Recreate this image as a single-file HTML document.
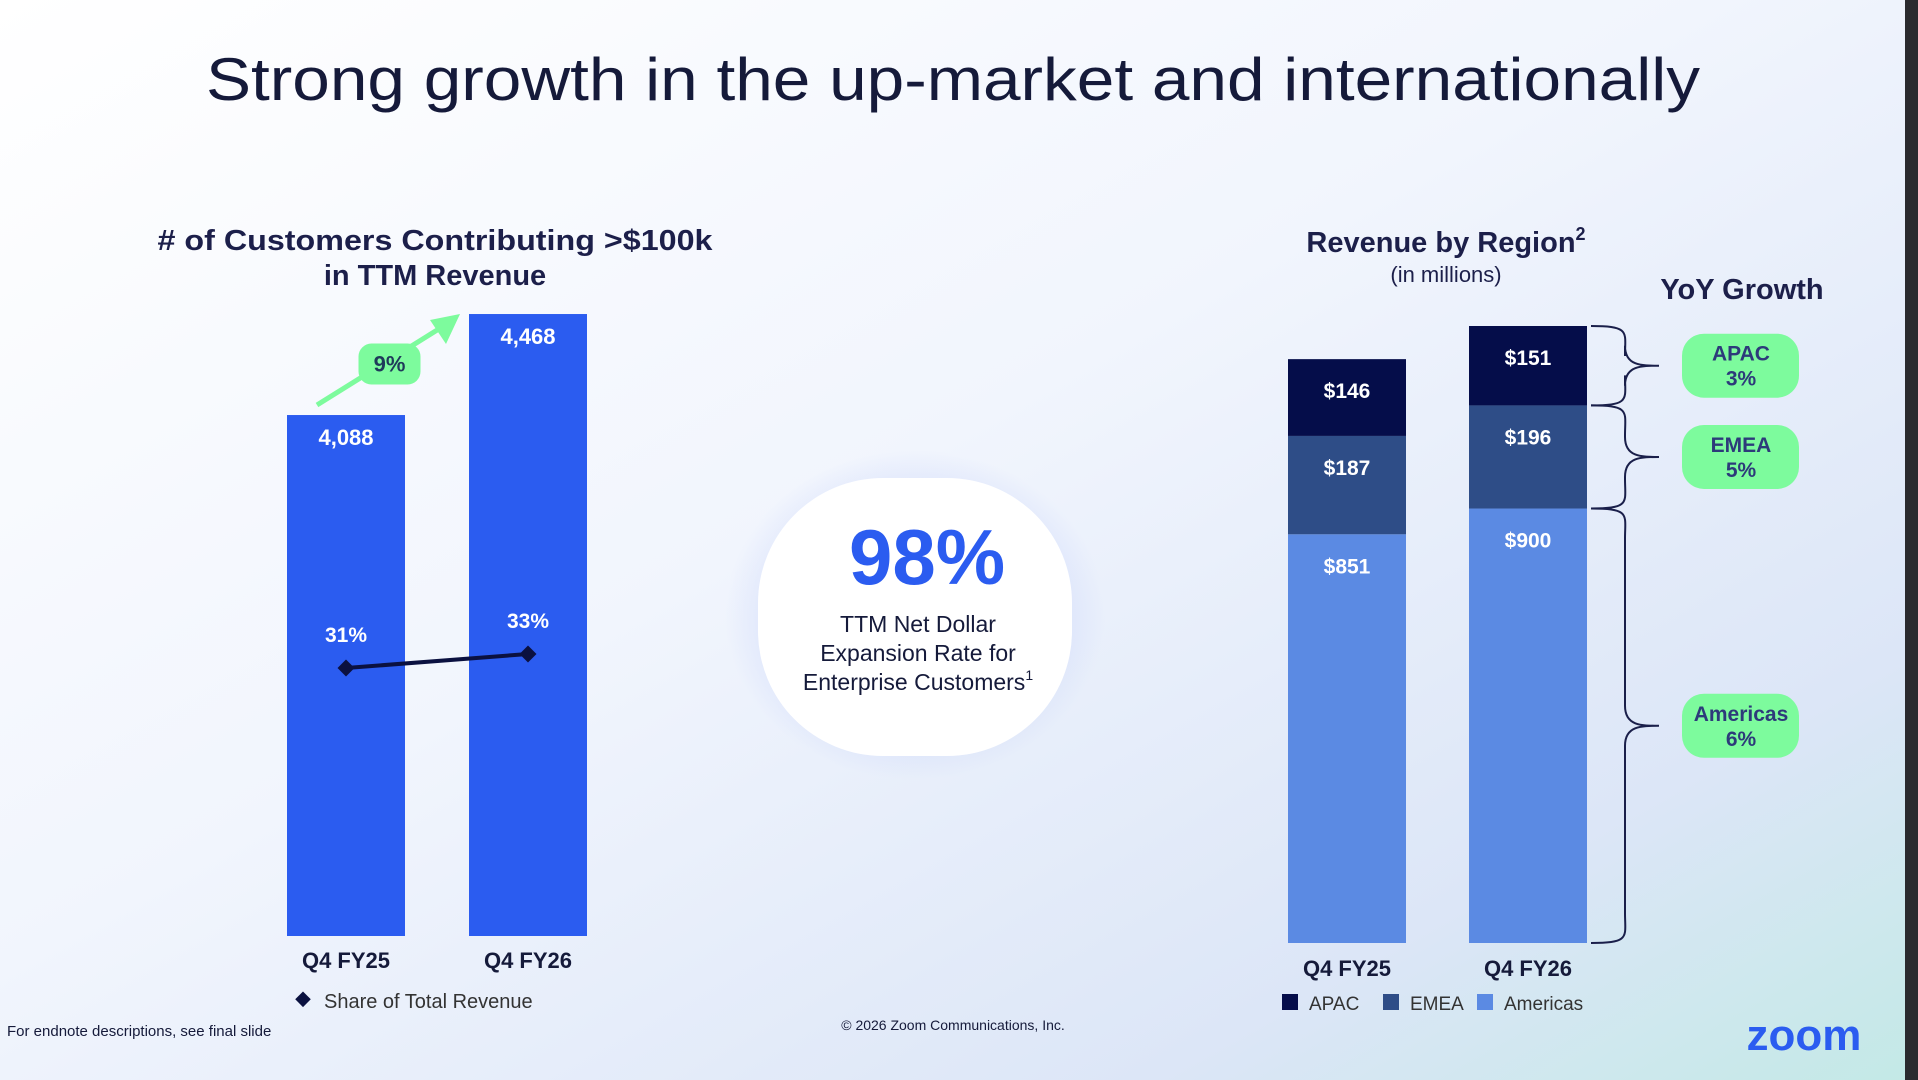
<!DOCTYPE html>
<html><head><meta charset="utf-8"><style>
html,body{margin:0;padding:0;width:1918px;height:1080px;overflow:hidden}
svg{display:block;font-family:"Liberation Sans",sans-serif}
</style></head><body>
<svg width="1918" height="1080" viewBox="0 0 1918 1080">
<defs>
<linearGradient id="bg" x1="0" y1="0" x2="1" y2="1">
<stop offset="0" stop-color="#ffffff"/><stop offset="0.45" stop-color="#f1f5fd"/><stop offset="0.8" stop-color="#dce6f7"/><stop offset="1" stop-color="#c3e9e6"/>
</linearGradient>
<radialGradient id="glow"><stop offset="0.6" stop-color="#c9d4fb"/><stop offset="1" stop-color="#c9d4fb" stop-opacity="0"/></radialGradient>
</defs>
<rect width="1918" height="1080" fill="url(#bg)"/>
<rect x="1905" y="0" width="13" height="1080" fill="#2a2a2e"/>
<text x="953" y="100" text-anchor="middle" font-size="60" fill="#151a3a" textLength="1494" lengthAdjust="spacingAndGlyphs">Strong growth in the up-market and internationally</text>

<g id="left">
<text x="435" y="250" text-anchor="middle" font-size="29" font-weight="bold" fill="#1c1f4a" textLength="555" lengthAdjust="spacingAndGlyphs"># of Customers Contributing &gt;$100k</text>
<text x="435" y="285" text-anchor="middle" font-size="29" font-weight="bold" fill="#1c1f4a">in TTM Revenue</text>
</g>

<g id="right">
<text x="1446" y="252" text-anchor="middle" font-size="29" font-weight="bold" fill="#1c1f4a">Revenue by Region<tspan font-size="18" dy="-12">2</tspan></text>
<text x="1446" y="282" text-anchor="middle" font-size="22" fill="#1c1f4a">(in millions)</text>
<text x="1742" y="299" text-anchor="middle" font-size="29" font-weight="bold" fill="#1c1f4a">YoY Growth</text>
</g>

<g>
<ellipse cx="915" cy="615" rx="190" ry="165" fill="url(#glow)" opacity="0.7"/>
<rect x="758" y="478" width="314" height="278" rx="125" fill="#ffffff"/>
<text x="927" y="584" text-anchor="middle" font-size="78" font-weight="bold" fill="#2b5cf0">98%</text>
<text x="918" y="632" text-anchor="middle" font-size="23" fill="#151a3a">TTM Net Dollar</text>
<text x="918" y="661" text-anchor="middle" font-size="23" fill="#151a3a">Expansion Rate for</text>
<text x="918" y="690" text-anchor="middle" font-size="23" fill="#151a3a">Enterprise Customers<tspan font-size="14" dy="-10">1</tspan></text>
</g>

<text x="7" y="1036" font-size="15" fill="#151a3a">For endnote descriptions, see final slide</text>
<text x="953" y="1030" text-anchor="middle" font-size="14" fill="#151a3a">© 2026 Zoom Communications, Inc.</text>
<text x="1804" y="1050" text-anchor="middle" font-size="44" font-weight="bold" fill="#2b5cf0">zoom</text>
</svg>
<script>
const NS='http://www.w3.org/2000/svg';
const custCategories=['Q4 FY25','Q4 FY26'];
const custValues=[4088,4468];
const custLabels=['4,088','4,468'];
const shareValues=[31,33];
const growthLabel='9%';
const regionCategories=['Q4 FY25','Q4 FY26'];
const regionSeries=['APAC','EMEA','Americas'];
const apacValues=[146,151];
const emeaValues=[187,196];
const americasValues=[851,900];
const yoyGrowth=['3%','5%','6%'];

function mk(tag,attrs,parent,text){const e=document.createElementNS(NS,tag);for(const k in attrs)e.setAttribute(k,attrs[k]);if(text!==undefined)e.textContent=text;parent.appendChild(e);return e;}
const L=document.getElementById('left'), R=document.getElementById('right');
const lBase=936, lK=0.2658, lV0=2128;
const ly=v=>lBase-(v-lV0)*lK;
const lx=i=>346+i*182; const bw=118;
const sy=s=>668-(s-31)*7;
custValues.forEach((v,i)=>{
 const b=mk('rect',{x:lx(i)-bw/2,y:ly(v),width:bw,height:lBase-ly(v),fill:'#2b5cf0'},L);
 
 
 const t=mk('text',{x:lx(i),y:ly(v)+30,'text-anchor':'middle','font-size':22,'font-weight':'bold',fill:'#fff'},L,custLabels[i]);
 
 
 const c=mk('text',{x:lx(i),y:968,'text-anchor':'middle','font-size':22,'font-weight':'bold',fill:'#151a3a'},L,custCategories[i]);
 
 
});
const sl=mk('line',{x1:lx(0),y1:sy(shareValues[0]),x2:lx(1),y2:sy(shareValues[1]),stroke:'#0b1140','stroke-width':4},L);


shareValues.forEach((s,i)=>{
 const d=mk('rect',{x:lx(i)-6,y:sy(s)-6,width:12,height:12,fill:'#0b1140',transform:`rotate(45 ${lx(i)} ${sy(s)})`},L);
 
 
 const t=mk('text',{x:lx(i),y:sy(s)-26,'text-anchor':'middle','font-size':21,'font-weight':'bold',fill:'#fff'},L,s+'%');
 
 
});
const ax1=lx(0)-29, ay1=ly(custValues[0])-10, ax2=lx(1)-68, ay2=ly(custValues[1]);
const ar=mk('line',{x1:ax1,y1:ay1,x2:ax2-10,y2:ay2+8,stroke:'#7dfb9d','stroke-width':5},L);


mk('polygon',{points:`${ax2},${ay2} ${ax2-30},${ay2+6} ${ax2-14},${ay2+30}`,fill:'#7dfb9d'},L);
const pmx=(ax1+ax2)/2+1, pmy=(ay1+ay2)/2+4;
const gp=mk('rect',{x:pmx-31,y:pmy-20,width:62,height:41,rx:13,fill:'#7dfb9d'},L);


mk('text',{x:pmx,y:pmy+8,'text-anchor':'middle','font-size':22,'font-weight':'bold',fill:'#1f3a5a'},L,growthLabel);
const lg=mk('rect',{x:297,y:994,width:11,height:11,fill:'#0b1140',transform:'rotate(45 303 1000)'},L);


const lt=mk('text',{x:324,y:1008,'font-size':20,fill:'#333'},L,'Share of Total Revenue');



// right chart: segment height = (v - offset)*k ; bottom segment uses axis offset
const rBase=943, rK=0.526, rOffset=74;
const rx=i=>1347+i*181; const rw=118;
const colors=['#050d4a','#2e4d87','#5b8ae3'];
const seriesVals=[apacValues,emeaValues,americasValues];
const boundsByCat=[];
regionCategories.forEach((c,i)=>{
 let y=rBase; const bnds={};
 [2,1,0].forEach(s=>{
  const v=seriesVals[s][i]; const h=(s===2?(v-rOffset):v)*rK; y-=h;
  const r=mk('rect',{x:rx(i)-rw/2,y:y,width:rw,height:h,fill:colors[s]},R);
  
  
  const t=mk('text',{x:rx(i),y:y+39,'text-anchor':'middle','font-size':21,'font-weight':'bold',fill:'#fff'},R,'$'+v);
  
  
  bnds[s]=[y,y+h];
 });
 boundsByCat.push(bnds);
 const xl=mk('text',{x:rx(i),y:976,'text-anchor':'middle','font-size':22,'font-weight':'bold',fill:'#151a3a'},R,c);
 
 
});
const bx=rx(1)+rw/2+4, px=1659;
[0,1,2].forEach(s=>{
 const [t,b]=boundsByCat[1][s]; const m=(t+b)/2;
 const d=`M${bx},${t} C${bx+40},${t} ${bx+34},${t+6} ${bx+34},${Math.min(t+30,m-8)} L${bx+34},${m-20} C${bx+34},${m} ${bx+50},${m} ${px},${m} C${bx+50},${m} ${bx+34},${m} ${bx+34},${m+20} L${bx+34},${Math.max(b-30,m+8)} C${bx+34},${b-6} ${bx+40},${b} ${bx},${b}`;
 const br=mk('path',{d:d,fill:'none',stroke:'#1a1f4a','stroke-width':2},R);
 
 
 const p=mk('rect',{x:1682,y:m-32,width:117,height:64,rx:22,fill:'#7dfb9d'},R);
 
 
 mk('text',{x:1741,y:m-5,'text-anchor':'middle','font-size':21,'font-weight':'bold',fill:'#2d3a7a'},R,regionSeries[s]);
 mk('text',{x:1741,y:m+20,'text-anchor':'middle','font-size':21,'font-weight':'bold',fill:'#2d3a7a'},R,yoyGrowth[s]);
});
const lxs=[1282,1383,1477];
regionSeries.forEach((s,i)=>{
 const sq=mk('rect',{x:lxs[i],y:994,width:16,height:16,fill:colors[i]},R);
 
 
 const t=mk('text',{x:lxs[i]+27,y:1010,'font-size':19,fill:'#333'},R,s);
 
 
});
</script>
</body></html>
